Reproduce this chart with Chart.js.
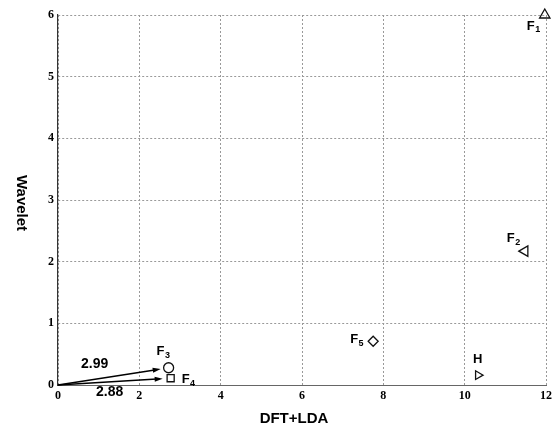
<!DOCTYPE html>
<html>
<head>
<meta charset="utf-8">
<script src="https://cdn.jsdelivr.net/npm/chart.js@4.4.1/dist/chart.umd.min.js"></script>
<style>
html,body{margin:0;padding:0;background:#fff;}
#wrap{width:556px;height:427px;position:relative;}
</style>
</head>
<body>
<div id="wrap"><canvas id="c" width="556" height="427"></canvas></div>
<script>
// ---- data ----
const pointNames = ['F1', 'F2', 'F3', 'F4', 'F5', 'H'];
const dftLda = [11.97, 11.48, 2.72, 2.77, 7.75, 10.33];
const wavelet = [6.0, 2.17, 0.28, 0.11, 0.71, 0.16];
const arrowTargets = ['F3', 'F4'];
const arrowLabels = ['2.99', '2.88'];
const xTicks = [0, 2, 4, 6, 8, 10, 12];
const yTicks = [0, 1, 2, 3, 4, 5, 6];
const xTitle = 'DFT+LDA';
const yTitle = 'Wavelet';

// ---- styles ----
const markerStyles = {
  F1: {style: 'triangle', rot: 0, r: 6},
  F2: {style: 'triangle', rot: -90, r: 6},
  F3: {style: 'circle', rot: 0, r: 5},
  F4: {style: 'rect', rot: 0, r: 5},
  F5: {style: 'rectRot', rot: 0, r: 5},
  H: {style: 'triangle', rot: 90, r: 5}
};
const labelOffsets = {
  F1: [-18, 11], F2: [-18, -13], F3: [-12, -16],
  F4: [11, 1], F5: [-23, -2], H: [-5, -16]
};
const arrowLabelOffsets = [[-74, -4], [-61, 14]];

const datasets = pointNames.map((n, i) => {
  const s = markerStyles[n];
  return {
    label: n,
    data: [{x: dftLda[i], y: wavelet[i]}],
    pointStyle: s.style,
    rotation: s.rot,
    pointRadius: s.r,
    pointHoverRadius: s.r,
    borderColor: '#111',
    backgroundColor: 'rgba(255,255,255,0)',
    pointBorderWidth: 1.3,
    clip: false
  };
});

const overlay = {
  id: 'overlay',
  afterDatasetsDraw(chart) {
    const ctx = chart.ctx;
    const xs = chart.scales.x, ys = chart.scales.y;
    const ox = xs.getPixelForValue(0), oy = ys.getPixelForValue(0);
    ctx.save();
    // arrows
    arrowTargets.forEach((t, k) => {
      const i = pointNames.indexOf(t);
      const px = xs.getPixelForValue(dftLda[i]), py = ys.getPixelForValue(wavelet[i]);
      const dx = px - ox, dy = py - oy, len = Math.hypot(dx, dy);
      const ux = dx / len, uy = dy / len;
      const shorten = markerStyles[t].r + 3;
      const ex = px - ux * shorten, ey = py - uy * shorten;
      ctx.strokeStyle = '#000';
      ctx.fillStyle = '#000';
      ctx.lineWidth = 1.5;
      ctx.beginPath();
      ctx.moveTo(ox, oy);
      ctx.lineTo(ex - ux * 6, ey - uy * 6);
      ctx.stroke();
      const hx = -uy, hy = ux;
      ctx.beginPath();
      ctx.moveTo(ex, ey);
      ctx.lineTo(ex - ux * 8 + hx * 2.5, ey - uy * 8 + hy * 2.5);
      ctx.lineTo(ex - ux * 8 - hx * 2.5, ey - uy * 8 - hy * 2.5);
      ctx.closePath();
      ctx.fill();
      // value label
      ctx.font = 'bold 14px "Liberation Sans", Arial, sans-serif';
      ctx.textAlign = 'center';
      ctx.textBaseline = 'middle';
      ctx.fillText(arrowLabels[k], px + arrowLabelOffsets[k][0], py + arrowLabelOffsets[k][1]);
    });
    // point labels with subscripts
    pointNames.forEach((n, i) => {
      const px = xs.getPixelForValue(dftLda[i]), py = ys.getPixelForValue(wavelet[i]);
      const [ddx, ddy] = labelOffsets[n];
      const x0 = px + ddx, y0 = py + ddy;
      ctx.fillStyle = '#000';
      ctx.textAlign = 'left';
      ctx.textBaseline = 'middle';
      ctx.font = 'bold 13px "Liberation Sans", Arial, sans-serif';
      const main = n.charAt(0);
      ctx.fillText(main, x0, y0);
      const w = ctx.measureText(main).width;
      const sub = n.slice(1);
      if (sub) {
        ctx.font = 'bold 9px "Liberation Sans", Arial, sans-serif';
        ctx.fillText(sub, x0 + w + 0.5, y0 + 4);
      }
    });
    // axis titles
    ctx.font = 'bold 15px "Liberation Sans", Arial, sans-serif';
    ctx.textAlign = 'center';
    ctx.textBaseline = 'middle';
    ctx.fillText(xTitle, 294, 419);
    ctx.save();
    ctx.translate(21, 203);
    ctx.rotate(Math.PI / 2);
    ctx.fillText(yTitle, 0, 0);
    ctx.restore();
    ctx.restore();
  }
};

const tickFont = {family: '"Liberation Serif", "Times New Roman", serif', size: 12, weight: 'bold'};

new Chart(document.getElementById('c'), {
  type: 'scatter',
  data: {datasets},
  options: {
    responsive: false,
    animation: false,
    events: [],
    layout: {padding: {left: 40, right: 10, top: 15, bottom: 0}},
    plugins: {legend: {display: false}, tooltip: {enabled: false}},
    scales: {
      x: {
        type: 'linear', min: 0, max: 12,
        afterBuildTicks: s => { s.ticks = xTicks.map(v => ({value: v})); },
        afterFit: s => { s.height = 42; },
        ticks: {color: '#000', font: tickFont, padding: 4, callback: v => String(v)},
        grid: {color: '#999', lineWidth: 1, drawTicks: false},
        border: {display: true, color: '#666', dash: [2, 2]},
        title: {display: false}
      },
      y: {
        type: 'linear', min: 0, max: 6,
        afterBuildTicks: s => { s.ticks = yTicks.map(v => ({value: v})); },
        afterFit: s => { s.width = 18; },
        ticks: {color: '#000', font: tickFont, padding: 4, callback: v => String(v)},
        grid: {color: '#999', lineWidth: 1, drawTicks: false},
        border: {display: true, color: '#333', width: 1.2, dash: [2, 2]},
        title: {display: false}
      }
    }
  },
  plugins: [overlay]
});
</script>
</body>
</html>
